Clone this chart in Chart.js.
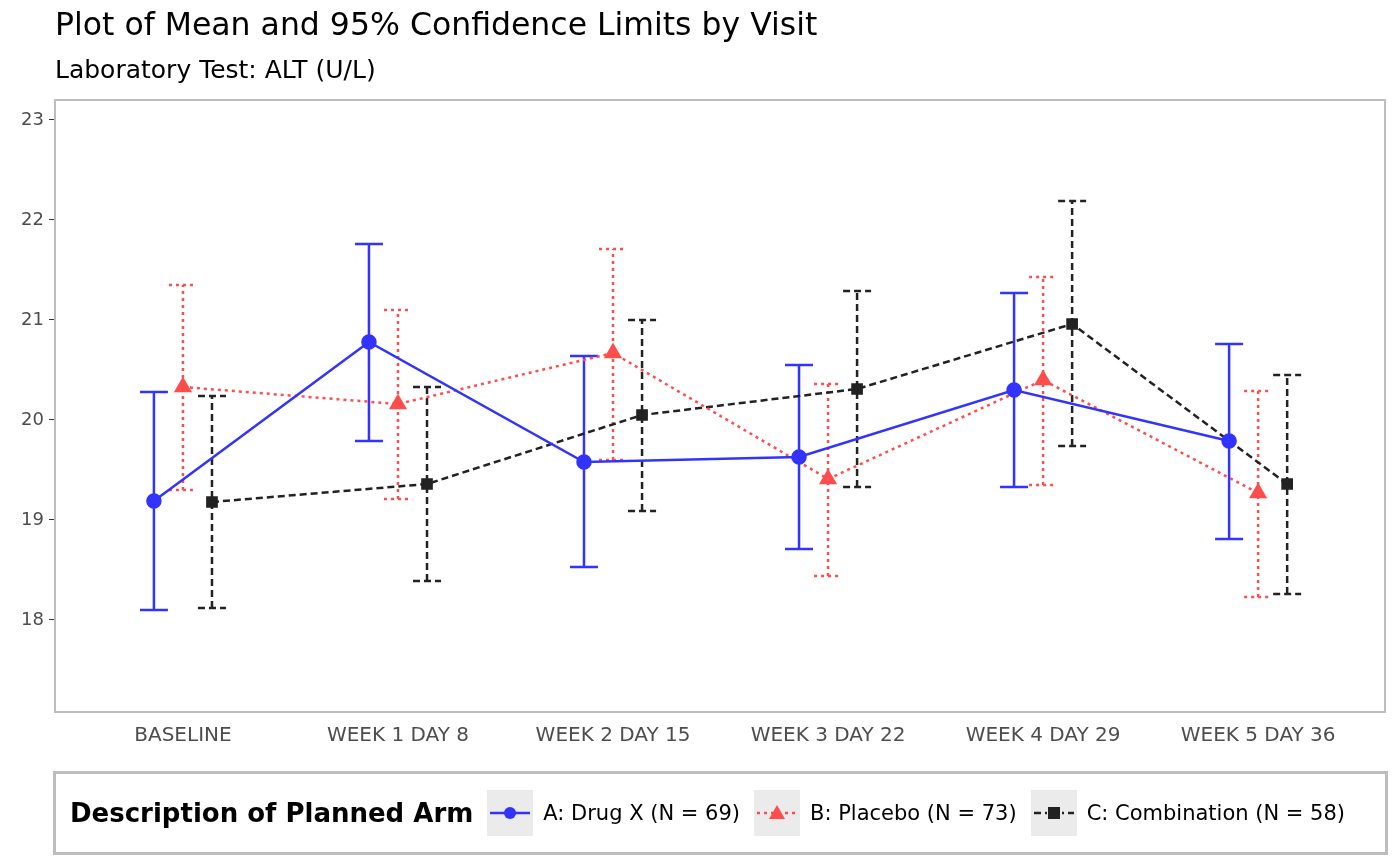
<!DOCTYPE html>
<html>
<head>
<meta charset="utf-8">
<script src="https://cdn.jsdelivr.net/npm/chart.js@4"></script>
<style>
  body { margin: 0; background: #fff; font-family: "DejaVu Sans", sans-serif; }
  #wrap { position: relative; width: 1400px; height: 866px; }
  canvas { position: absolute; left: 0; top: 0; }
  .title { position: absolute; left: 55px; top: 6px; font-size: 31.5px; color: #000; }
  .subtitle { position: absolute; left: 55px; top: 55px; font-size: 25px; color: #000; }
  .legend { position: absolute; left: 53px; top: 771px; width: 1329px; height: 78px; border: 3px solid #bdbdbd;
            display: flex; align-items: center; font-size: 21px; white-space: nowrap; }
  .legend b { font-size: 26px; margin: 0 14px 0 14px; }
  .key { width: 46px; height: 46px; background: #ebebeb; margin-right: 10px; }
  .item { display: flex; align-items: center; margin-right: 14px; }
</style>
</head>
<body>
<div id="wrap">
  <canvas id="chart" width="1400" height="866"></canvas>
  <div class="title">Plot of Mean and 95% Confidence Limits by Visit</div>
  <div class="subtitle">Laboratory Test: ALT (U/L)</div>
  <div class="legend">
    <b>Description of Planned Arm</b>
    <div class="item"><svg class="key" viewBox="0 0 46 46"><line x1="3" y1="23" x2="43" y2="23" stroke="#3333ff" stroke-width="2.5"/><circle cx="23" cy="23" r="6" fill="#3333ff"/></svg>A: Drug X (N = 69)</div>
    <div class="item"><svg class="key" viewBox="0 0 46 46"><line x1="3" y1="23" x2="43" y2="23" stroke="#ff4d4d" stroke-width="2.5" stroke-dasharray="3,4"/><polygon points="23,15 31,29 15,29" fill="#ff4d4d"/></svg>B: Placebo (N = 73)</div>
    <div class="item"><svg class="key" viewBox="0 0 46 46"><line x1="3" y1="23" x2="43" y2="23" stroke="#222" stroke-width="2.5" stroke-dasharray="7,4,2,4"/><rect x="17" y="17" width="12" height="12" fill="#222"/></svg>C: Combination (N = 58)</div>
  </div>
</div>
<script>
var visits = ['BASELINE', 'WEEK 1 DAY 8', 'WEEK 2 DAY 15', 'WEEK 3 DAY 22', 'WEEK 4 DAY 29', 'WEEK 5 DAY 36'];

var meanA = [19.19, 20.78, 19.58, 19.63, 20.30, 19.79];
var lowA  = [18.10, 19.79, 18.53, 18.71, 19.33, 18.81];
var highA = [20.28, 21.76, 20.64, 20.55, 21.27, 20.76];

var meanB = [20.33, 20.16, 20.67, 19.41, 20.40, 19.27];
var lowB  = [19.30, 19.21, 19.60, 18.44, 19.35, 18.23];
var highB = [21.35, 21.10, 21.71, 20.36, 21.43, 20.29];

var meanC = [19.18, 19.36, 20.05, 20.31, 20.96, 19.36];
var lowC  = [18.12, 18.39, 19.09, 19.33, 19.74, 18.26];
var highC = [20.24, 20.33, 21.00, 21.29, 22.19, 20.45];

var dodge = 0.135;

function toPoints(mean, low, high, off) {
  return mean.map(function (m, i) { return { x: i + off, y: m, lo: low[i], hi: high[i] }; });
}

function makeSet(label, mean, low, high, off, color, dash, shape) {
  return {
    label: label,
    data: toPoints(mean, low, high, off),
    borderColor: color,
    backgroundColor: color,
    borderWidth: 2.5,
    borderDash: dash,
    pointStyle: shape,
    pointRadius: shape === 'triangle' ? 8 : 6.5,
    tension: 0
  };
}

var errorBars = {
  id: 'errorBars',
  beforeDatasetsDraw: function (chart) {
    var ctx = chart.ctx, xs = chart.scales.x, ys = chart.scales.y;
    chart.data.datasets.forEach(function (ds) {
      ctx.save();
      ctx.strokeStyle = ds.borderColor;
      ctx.lineWidth = 2.5;
      ctx.setLineDash(ds.borderDash || []);
      ds.data.forEach(function (p) {
        var x = xs.getPixelForValue(p.x);
        var y1 = ys.getPixelForValue(p.lo), y2 = ys.getPixelForValue(p.hi);
        ctx.beginPath();
        ctx.moveTo(x, y1); ctx.lineTo(x, y2);
        ctx.moveTo(x - 14, y1); ctx.lineTo(x + 14, y1);
        ctx.moveTo(x - 14, y2); ctx.lineTo(x + 14, y2);
        ctx.stroke();
      });
      ctx.restore();
    });
    var a = chart.chartArea;
    ctx.save();
    ctx.strokeStyle = '#bdbdbd';
    ctx.lineWidth = 2;
    ctx.strokeRect(a.left, a.top, a.right - a.left, a.bottom - a.top);
    ctx.restore();
  }
};

new Chart(document.getElementById('chart').getContext('2d'), {
  type: 'line',
  data: {
    datasets: [
      makeSet('A: Drug X (N = 69)', meanA, lowA, highA, -dodge, '#3333ff', [], 'circle'),
      makeSet('B: Placebo (N = 73)', meanB, lowB, highB, 0, '#ff4d4d', [3, 4], 'triangle'),
      makeSet('C: Combination (N = 58)', meanC, lowC, highC, dodge, '#222222', [7, 4], 'rect')
    ]
  },
  options: {
    responsive: false,
    animation: false,
    layout: { padding: { top: 100, right: 15, bottom: 106, left: 0 } },
    plugins: { legend: { display: false }, tooltip: { enabled: false } },
    scales: {
      x: {
        type: 'linear', min: -0.595, max: 5.59,
        afterFit: function (s) { s.height = 48; },
        afterBuildTicks: function (s) { s.ticks = visits.map(function (v, i) { return { value: i }; }); },
        ticks: {
          autoSkip: false, maxRotation: 0, color: '#4d4d4d', padding: 6,
          font: { family: 'DejaVu Sans', size: 20 },
          callback: function (v) { return visits[v]; }
        },
        grid: { display: false, drawOnChartArea: false, drawTicks: true, tickLength: 6, color: '#333' },
        border: { display: false }
      },
      y: {
        min: 17.08, max: 23.2,
        afterFit: function (s) { s.width = 55; },
        afterBuildTicks: function (s) { s.ticks = [18, 19, 20, 21, 22, 23].map(function (v) { return { value: v }; }); },
        ticks: { color: '#4d4d4d', padding: 5, font: { family: 'DejaVu Sans', size: 18 } },
        grid: { drawOnChartArea: false, drawTicks: true, tickLength: 6, color: '#333' },
        border: { display: false }
      }
    }
  },
  plugins: [errorBars]
});
</script>
</body>
</html>
